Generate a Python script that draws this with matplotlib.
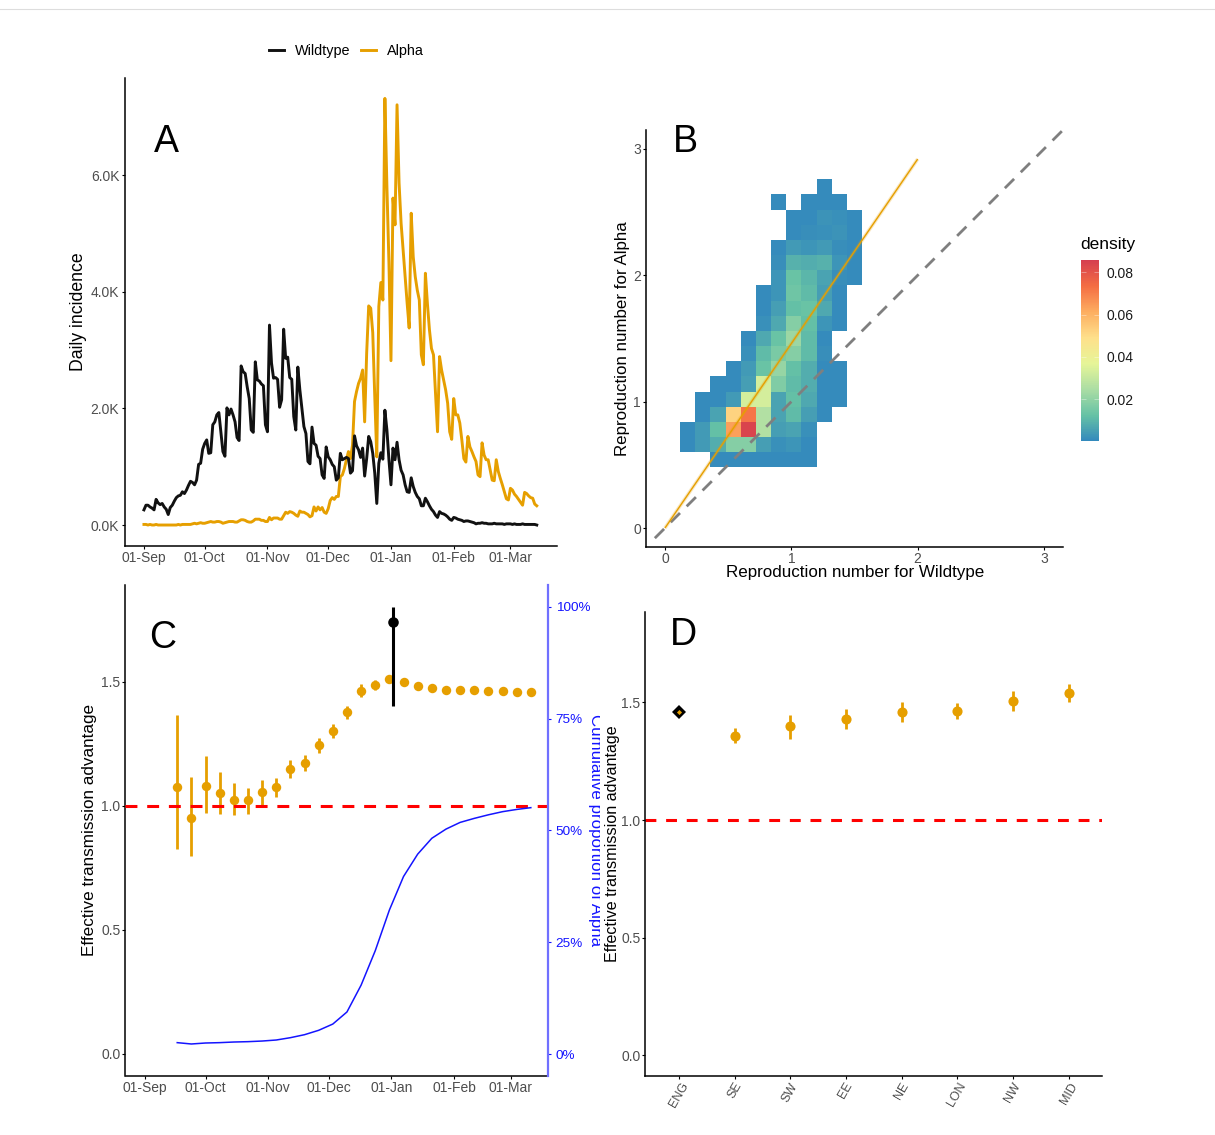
#!/usr/bin/env python3

import matplotlib
matplotlib.use('Agg')
import matplotlib.pyplot as plt
from matplotlib.colors import LinearSegmentedColormap
from matplotlib.lines import Line2D
from matplotlib.transforms import Bbox
import numpy as np
import pandas as pd

plt.rcParams['font.family'] = ['Liberation Sans', 'DejaVu Sans']

WIDTH, HEIGHT = 1215, 1135
ORANGE = '#E69F00'
TICK_GREY = '#4d4d4d'

# panel A, daily incidence in thousands, from 01-Sep
wildtype = [
    .26, .34, .34, .31, .29, .26, .44, .38, .35, .37,
    .31, .27, .18, .30, .34, .41, .47, .50, .51, .57,
    .54, .60, .68, .75, .73, .69, .77, 1.04, 1.06, 1.30,
    1.40, 1.46, 1.23, 1.24, 1.72, 1.77, 1.89, 1.93, 1.60, 1.26,
    1.18, 2.01, 1.89, 1.99, 1.89, 1.77, 1.50, 1.45, 2.73, 2.63,
    2.60, 2.37, 2.17, 1.63, 1.59, 2.80, 2.49, 2.47, 2.42, 2.39,
    1.72, 1.60, 3.43, 2.78, 2.52, 2.53, 2.50, 2.02, 2.15, 3.36,
    2.86, 2.88, 2.53, 2.50, 1.86, 1.63, 2.71, 2.32, 2.00, 1.69,
    1.57, 1.09, 1.05, 1.68, 1.40, 1.37, 1.18, 1.14, .86, .80,
    1.34, 1.17, 1.12, 1.04, 1.00, .77, .81, 1.23, 1.12, 1.14,
    1.16, 1.14, .89, .93, 1.53, 1.36, 1.29, 1.16, 1.32, .84,
    1.14, 1.52, 1.43, 1.23, .89, .37, 1.06, 1.24, 1.13, 1.97,
    1.63, 1.12, .69, 1.32, 1.12, 1.42, 1.12, .94, .86, .69,
    .57, .56, .81, .66, .56, .49, .45, .33, .33, .46,
    .40, .33, .27, .23, .17, .13, .23, .20, .19, .17,
    .14, .10, .08, .13, .12, .10, .09, .08, .06, .07,
    .07, .06, .05, .04, .02, .03, .03, .04, .03, .03,
    .02, .02, .02, .03, .02, .02, .02, .02, .01, .02,
    .02, .02, .01, .02, .01, .01, .01, .02, .01, .01,
    .01, .01, .01, .01, .00]
alpha = [
    .01, .01, 0, .01, 0, 0, .01, 0, 0, 0,
    0, 0, 0, 0, 0, 0, 0, .01, 0, .01,
    .01, .01, .01, .01, .02, .03, .02, .03, .04, .03,
    .03, .04, .05, .06, .05, .05, .06, .06, .05, .03,
    .04, .05, .06, .06, .06, .05, .05, .07, .09, .09,
    .08, .06, .05, .05, .07, .10, .10, .10, .08, .08,
    .06, .06, .13, .09, .12, .12, .12, .10, .10, .16,
    .22, .20, .23, .22, .20, .17, .15, .24, .22, .22,
    .20, .18, .14, .16, .31, .24, .31, .26, .30, .22,
    .20, .28, .42, .47, .44, .49, .49, .83, .86, .97,
    1.12, 1.26, 1.14, 1.37, 2.12, 2.29, 2.43, 2.52, 2.66, 1.77,
    2.95, 3.76, 3.72, 3.30, 2.20, 1.17, 3.75, 4.16, 3.86, 7.32,
    5.80, 4.50, 2.82, 5.61, 5.15, 7.21, 5.87, 5.18, 4.72, 4.26,
    3.80, 3.38, 5.35, 4.60, 4.26, 4.03, 3.86, 2.92, 2.75, 4.32,
    3.80, 3.35, 3.03, 2.92, 2.26, 1.60, 2.89, 2.66, 2.49, 2.32,
    2.09, 1.60, 1.47, 2.17, 1.89, 1.89, 1.75, 1.46, 1.14, 1.08,
    1.52, 1.34, 1.26, 1.17, 1.09, .86, .83, 1.41, 1.20, 1.12,
    1.12, .94, .77, .76, 1.12, .92, .80, .69, .57, .45,
    .43, .63, .60, .53, .49, .44, .39, .34, .56, .54,
    .50, .47, .46, .36, .33]
month_ticks = ['2020-09-01', '2020-10-01', '2020-11-01', '2020-12-01',
               '2021-01-01', '2021-02-01', '2021-03-01']
month_labels = ['01-Sep', '01-Oct', '01-Nov', '01-Dec', '01-Jan', '01-Feb', '01-Mar']

# panel B, density per 0.12 x 0.12 cell, rows from the top (0 means no cell)
density = [
    [0, 0, 0, 0, 0, 0, 0, 0, 0, .001, 0, 0],
    [0, 0, 0, 0, 0, 0, .001, 0, .001, .001, .001, 0],
    [0, 0, 0, 0, 0, 0, 0, .001, .001, .0025, .002, .001],
    [0, 0, 0, 0, 0, 0, 0, .001, .0015, .002, .0025, .001],
    [0, 0, 0, 0, 0, 0, .001, .004, .003, .004, .0015, .001],
    [0, 0, 0, 0, 0, 0, .0015, .009, .008, .009, .003, .001],
    [0, 0, 0, 0, 0, 0, .003, .013, .010, .006, .0015, .001],
    [0, 0, 0, 0, 0, .001, .003, .014, .011, .005, .001, 0],
    [0, 0, 0, 0, 0, .001, .005, .012, .013, .007, .001, 0],
    [0, 0, 0, 0, 0, .002, .007, .018, .012, .003, .001, 0],
    [0, 0, 0, 0, .001, .007, .013, .022, .011, .001, 0, 0],
    [0, 0, 0, 0, .002, .011, .016, .018, .011, .0015, 0, 0],
    [0, 0, 0, .001, .004, .013, .021, .012, .008, .001, .001, 0],
    [0, 0, .001, .001, .005, .033, .017, .011, .008, .001, .001, 0],
    [0, .001, .001, .004, .033, .033, .006, .012, .007, .001, .001, 0],
    [0, .001, .006, .052, .072, .026, .006, .011, .005, .001, 0, 0],
    [.001, .004, .012, .064, .084, .026, .005, .006, .002, 0, 0, 0],
    [.001, .004, .008, .018, .018, .005, .002, .003, .001, 0, 0, 0],
    [0, 0, .001, .001, .001, .001, .001, .001, .001, 0, 0, 0]]
bin_width = 0.12
first_col, first_row = 1, 4
fit_x = [0, 2]
fit_y = [0, 2.92]
spectral = ['#3288BD', '#66C2A5', '#ABDDA4', '#E6F598', '#FEE08B', '#FDAE61', '#F46D43', '#D53E4F']
density_ticks = [.02, .04, .06, .08]
density_max = .0858

# panel C, weekly estimates
weeks = pd.date_range('2020-09-17', periods=26, freq='7D')
advantage = [1.078, .953, 1.08, 1.054, 1.026, 1.023, 1.056, 1.075, 1.149, 1.173, 1.246, 1.302, 1.378,
             1.465, 1.488, 1.511, 1.501, 1.484, 1.474, 1.469, 1.468, 1.467, 1.465, 1.464, 1.46, 1.459]
advantage_low = [.825, .80, .97, .969, .962, .969, 1.004, 1.035, 1.114, 1.141, 1.215, 1.275, 1.352,
                 1.441, 1.468, 1.50, 1.493, 1.477, 1.468, 1.463, 1.462, 1.461, 1.459, 1.458, 1.454, 1.453]
advantage_high = [1.367, 1.118, 1.203, 1.138, 1.094, 1.074, 1.105, 1.114, 1.185, 1.206, 1.275, 1.332, 1.404,
                  1.491, 1.508, 1.52, 1.509, 1.491, 1.48, 1.475, 1.474, 1.473, 1.471, 1.47, 1.466, 1.465]
cumulative = [.0254, .0224, .0246, .0254, .0268, .0276, .029, .0313, .0365, .0432, .053, .067, .094,
              .154, .231, .322, .397, .447, .4825, .503, .518, .527, .535, .542, .547, .551]
overall_date = pd.Timestamp('2021-01-02')
overall = 1.742
overall_low = 1.403
overall_high = 1.804

# panel D, regions
regions = ['ENG', 'SE', 'SW', 'EE', 'NE', 'LON', 'NW', 'MID']
region_adv = [1.458, 1.357, 1.399, 1.428, 1.458, 1.464, 1.506, 1.540]
region_low = [1.452, 1.326, 1.346, 1.387, 1.418, 1.431, 1.465, 1.503]
region_high = [1.464, 1.393, 1.447, 1.472, 1.501, 1.496, 1.550, 1.577]


def add_axes(left, top, right, bottom):
    ax = fig.add_axes([left / WIDTH, 1 - bottom / HEIGHT,
                       (right - left) / WIDTH, (bottom - top) / HEIGHT])
    ax.patch.set_alpha(0)
    for side in ['top', 'right']:
        ax.spines[side].set_visible(False)
    for side in ['left', 'bottom']:
        ax.spines[side].set_linewidth(1.1)
    ax.tick_params(length=2.5, width=0.8, labelsize=10, labelcolor=TICK_GREY)
    ax.tick_params(axis='x', pad=0.8)
    ax.tick_params(axis='y', pad=1.2)
    return ax


def put_text(x, y, s, **kwargs):
    kwargs.setdefault('ha', 'center')
    kwargs.setdefault('va', 'center')
    return fig.text(x / WIDTH, 1 - y / HEIGHT, s, **kwargs)


def date_axis(ax):
    ax.set_xticks(pd.to_datetime(month_ticks))
    ax.set_xticklabels(month_labels)
    ax.set_xlim(start - pd.Timedelta(days=9.6), start + pd.Timedelta(days=right_days[ax]))


fig = plt.figure(figsize=(WIDTH / 100, HEIGHT / 100), dpi=100)
fig.add_artist(Line2D([0, 1], [1 - 9 / HEIGHT] * 2, color='#dddddd', lw=0.8))

start = pd.Timestamp('2020-09-01')
dates = pd.date_range(start, periods=len(wildtype))
right_days = {}

# A
ax = add_axes(124.5, 78, 557, 546)
right_days[ax] = 204
ax.plot(dates, alpha, color=ORANGE, lw=2.1, solid_joinstyle='round')
ax.plot(dates, wildtype, color='#111111', lw=2.1, solid_joinstyle='round')
ax.set_ylim(-0.36, 7.67)
ax.set_yticks([0, 2, 4, 6])
ax.set_yticklabels(['0.0K', '2.0K', '4.0K', '6.0K'])
date_axis(ax)
put_text(78.5, 312, 'Daily incidence', rotation=90, fontsize=12.7)
put_text(166.5, 141.5, 'A', fontsize=27)

handles = [Line2D([], [], color='#111111', lw=2.1), Line2D([], [], color=ORANGE, lw=2.1)]
fig.legend(handles, ['Wildtype', 'Alpha'], ncol=2, frameon=False, fontsize=10.4,
           loc='center', bbox_to_anchor=(346.5 / WIDTH, 1 - 51 / HEIGHT),
           handlelength=1.05, handletextpad=0.75, columnspacing=0.7)

# B
ax = add_axes(646, 130, 1063, 547)
cmap = LinearSegmentedColormap.from_list('spectral', spectral)
grid = np.ma.masked_equal(np.array(density[::-1]), 0)
x_edges = (first_col + np.arange(grid.shape[1] + 1)) * bin_width
y_edges = (first_row + np.arange(grid.shape[0] + 1)) * bin_width
mesh = ax.pcolormesh(x_edges, y_edges, grid, cmap=cmap, vmin=0, vmax=density_max)
ax.plot([-0.08, 3.15], [-0.08, 3.15], color='#7f7f7f', lw=2.0, dashes=(4.7, 3.4), clip_on=False)
ax.plot(fit_x, fit_y, color=ORANGE, lw=2.6, alpha=0.25, solid_capstyle='butt')
ax.plot(fit_x, fit_y, color=ORANGE, lw=1.0, solid_capstyle='butt')
ax.set_xlim(-0.15, 3.15)
ax.set_ylim(-0.15, 3.15)
ax.set_xticks([0, 1, 2, 3])
ax.set_yticks([0, 1, 2, 3])
put_text(855, 572.5, 'Reproduction number for Wildtype', fontsize=12.25)
put_text(623, 339, 'Reproduction number for Alpha', rotation=90, fontsize=12.15)
put_text(685.5, 141.5, 'B', fontsize=27)

cax = add_axes(1081, 260, 1099, 441.5)
cbar = fig.colorbar(mesh, cax=cax)
cbar.outline.set_visible(False)
cbar.set_ticks(density_ticks)
cbar.set_ticklabels(['0.02', '0.04', '0.06', '0.08'])
cax.tick_params(length=3.5, direction='in', color='#ffffff80', width=0.5,
                labelsize=10, labelcolor='#1a1a1a', pad=5.5, left=True, right=True)
put_text(1080, 244.5, 'density', ha='left', fontsize=12.5)

# C
ax = add_axes(125.5, 585, 548, 1076)
right_days[ax] = 199.5
ax.axhline(1, color='red', lw=2.2, dashes=(3.9, 3.2), zorder=3)
ax.vlines(weeks, advantage_low, advantage_high, color=ORANGE, lw=2, zorder=2)
ax.plot(weeks, advantage, 'o', color=ORANGE, ms=6.8, mew=0, zorder=2)
ax.vlines(overall_date, overall_low, overall_high, color='black', lw=2.2, zorder=4)
ax.plot(overall_date, overall, 'o', color='black', ms=7.6, mew=0, zorder=4)
ax.set_ylim(-0.089, 1.891)
ax.set_yticks([0, 0.5, 1, 1.5])
ax.set_yticklabels(['0.0', '0.5', '1.0', '1.5'])
date_axis(ax)
put_text(89.5, 830, 'Effective transmission advantage', rotation=90, fontsize=12.3)
put_text(162.5, 637.5, 'C', fontsize=27)

blue = add_axes(125.5, 585, 548, 1076)
right_days[blue] = 199.5
blue.plot(weeks, cumulative, color='#1414ff', lw=1.1)
blue.set_ylim(-0.0492, 1.049)
date_axis(blue)
blue.yaxis.tick_right()
blue.spines['left'].set_visible(False)
blue.spines['bottom'].set_visible(False)
blue.spines['right'].set_visible(True)
blue.spines['right'].set_color('#7070ff')
blue.spines['right'].set_linewidth(1.6)
blue.tick_params(axis='x', length=0, labelbottom=False)
blue.tick_params(axis='y', colors='#1414ff', labelcolor='#1414ff', labelsize=9.7, length=2.5, pad=3)
blue.set_yticks([0, .25, .5, .75, 1])
blue.set_yticklabels(['0%', '25%', '50%', '75%', '100%'])

# the right hand title is cut off by panel D
cut = put_text(595.5, 830.5, 'Cumulative proportion of Alpha', rotation=270, fontsize=12.2,
               color='#1414ff', clip_on=True)
cut.set_clip_box(Bbox([[0, 0], [600, HEIGHT]]))

# D
ax = add_axes(645.5, 612, 1102, 1076)
pos = np.arange(len(regions))
ax.axhline(1, color='red', lw=2.2, dashes=(3.55, 3.2), zorder=1)
ax.vlines(pos[1:], region_low[1:], region_high[1:], color=ORANGE, lw=2)
ax.plot(pos[1:], region_adv[1:], 'o', color=ORANGE, ms=7.3, mew=0)
ax.plot(pos[0], region_adv[0], 'D', color='black', ms=7.2, mew=0)
ax.plot(pos[0], region_adv[0], 'D', color=ORANGE, ms=2.6, mew=0)
ax.set_xlim(-0.6, 7.6)
ax.set_ylim(-0.089, 1.885)
ax.set_yticks([0, 0.5, 1, 1.5])
ax.set_yticklabels(['0.0', '0.5', '1.0', '1.5'])
ax.set_xticks(pos)
ax.set_xticklabels(regions, rotation=60, ha='center', va='top', fontsize=9)
put_text(613, 843.5, 'Effective transmission advantage', rotation=90, fontsize=11.6)
put_text(683.5, 635, 'D', fontsize=27)

plt.savefig('out.png', dpi=100)
